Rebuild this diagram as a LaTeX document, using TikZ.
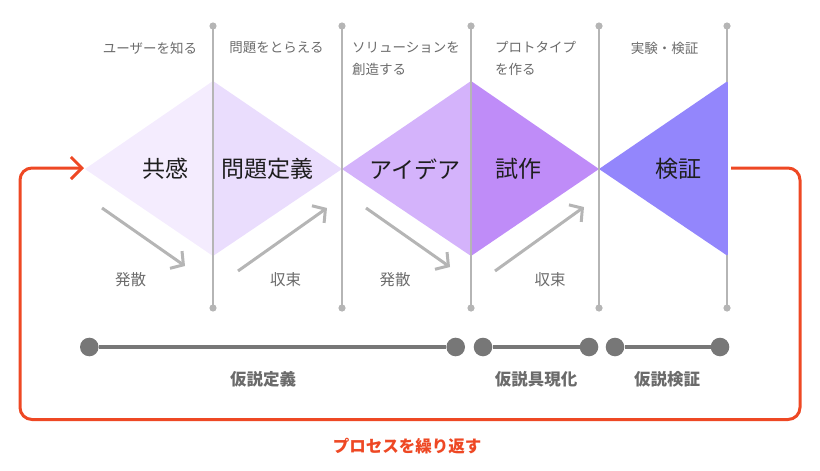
\documentclass[tikz,border=0pt]{standalone}
\usepackage{fontspec}
\setmainfont{Noto Sans CJK JP}
\usetikzlibrary{arrows.meta}

\definecolor{phaseempathy}{HTML}{F4ECFE}
\definecolor{phasedefine}{HTML}{EADDFD}
\definecolor{phaseideate}{HTML}{D4B3FB}
\definecolor{phaseproto}{HTML}{BF8CF8}
\definecolor{phasetest}{HTML}{9386FC}
\definecolor{guidegray}{HTML}{B5B5B5}
\definecolor{labelgray}{HTML}{6B6B6B}
\definecolor{bargray}{HTML}{777777}
\definecolor{loopred}{HTML}{EE4824}
\definecolor{inkblack}{HTML}{1E1E1E}

\tikzset{
  guideline/.style={line width=1.5pt, draw=guidegray},
  guidedot/.style={fill=guidegray},
  phasetext/.style={text=inkblack, font=\fontsize{23}{28}\selectfont, inner sep=0pt},
  steptext/.style={text=labelgray, font=\fontsize{13.5}{21.5}\selectfont, inner sep=0pt},
  flowtext/.style={text=labelgray, font=\fontsize{15.5}{19}\selectfont, inner sep=0pt},
  flowarrow/.style={line width=3pt, draw=guidegray, -{Straight Barb[length=9pt,width=21pt]}},
  bardot/.style={circle, fill=bargray, minimum size=18.6pt, inner sep=0pt},
  barline/.style={line width=4pt, draw=bargray},
  bartext/.style={text=labelgray, font=\bfseries\fontsize{16.5}{20}\selectfont, inner sep=0pt},
  looparrow/.style={line width=3pt, draw=loopred, rounded corners=12pt,
    -{Straight Barb[length=11pt,width=22pt]}},
}

\begin{document}
\begin{tikzpicture}[x=1pt,y=-1pt]
                \useasboundingbox (0,0) rectangle (820,471);
                {

                % Filling diamond of empathy and definition
                \fill [phaseempathy] (85,169) -- (213,81) -- (213,256) -- cycle;%
                \fill [phasedefine] (213,81) -- (342,169) -- (213,256) -- cycle;%

                % Filling diamond of ideation and prototype
                \fill [phaseideate] (342,169) -- (471,81) -- (471,256) -- cycle;%
                \fill [phaseproto] (471,81) -- (599,169) -- (471,256) -- cycle;%

                % Drawing guide lines with end dots
                \foreach \gx/\gn in {213/1,342/2,471/3,599/4,727/5} {
                    \coordinate (gtop\gn) at (\gx,26);
                    \coordinate (gbot\gn) at (\gx,308);
                    \draw [guideline] (gtop\gn) -- (gbot\gn);%
                    \fill [guidedot] (gtop\gn) circle (3.6);%
                    \fill [guidedot] (gbot\gn) circle (3.6);%
                }

                % Filling triangle of test (over its guide line)
                \fill [phasetest, rounded corners=1.5pt] (599,169) -- (727.8,81) -- (727.8,256) -- cycle;%

                % Marking phase names
                \draw (165,169) node (empathy) [phasetext] {共感};%
                \draw (267.5,169) node (define) [phasetext] {問題定義};%
                \draw (415,169) node (ideate) [phasetext] {アイデア};%
                \draw (518,169) node (proto) [phasetext] {試作};%
                \draw (678,169) node (test) [phasetext] {検証};%

                % Marking step captions
                \draw (150,48) node (knowuser) [steptext] {ユーザーを知る};%
                \draw (276.5,48) node (grasp) [steptext] {問題をとらえる};%
                \draw (352,58.5) node (create) [steptext, anchor=west, align=left] {ソリューションを\\創造する};%
                \draw (495,58.5) node (make) [steptext, anchor=west, align=left] {プロトタイプ\\を作る};%
                \draw (664.5,48) node (verify) [steptext] {実験・検証};%

                % Drawing diverge and converge arrows
                \coordinate (div1s) at (102,208);
                \coordinate (div1e) at (185,266);
                \coordinate (con1s) at (238,271);
                \coordinate (con1e) at (327,208);
                \coordinate (div2s) at (366,208);
                \coordinate (div2e) at (450,267);
                \coordinate (con2s) at (495,271);
                \coordinate (con2e) at (584,207);
                \draw [flowarrow] (div1s) -- (div1e);%
                \draw [flowarrow] (con1s) -- (con1e);%
                \draw [flowarrow] (div2s) -- (div2e);%
                \draw [flowarrow] (con2s) -- (con2e);%

                % Marking diverge and converge captions
                \draw (130.5,280) node (diverge1) [flowtext] {発散};%
                \draw (285.5,280) node (converge1) [flowtext] {収束};%
                \draw (395,280) node (diverge2) [flowtext] {発散};%
                \draw (550,280) node (converge2) [flowtext] {収束};%

                % Drawing hypothesis bars
                \node (hypdefA) at (89.3,347) [bardot] {};%
                \node (hypdefB) at (455.7,347) [bardot] {};%
                \node (hypmakeA) at (483,347) [bardot] {};%
                \node (hypmakeB) at (589,347) [bardot] {};%
                \node (hyptestA) at (615,347) [bardot] {};%
                \node (hyptestB) at (720,347) [bardot] {};%
                \draw [barline] (hypdefA) -- (hypdefB);%
                \draw [barline] (hypmakeA) -- (hypmakeB);%
                \draw [barline] (hyptestA) -- (hyptestB);%

                % Marking hypothesis captions
                \draw (263,379) node (hypdef) [bartext] {仮説定義};%
                \draw (536,379) node (hypmake) [bartext] {仮説具現化};%
                \draw (667,379) node (hyptest) [bartext] {仮説検証};%

                % Drawing repeat loop
                \coordinate (loopstart) at (731,168);
                \coordinate (loopend) at (84,168);
                \draw [looparrow] (loopstart) -- (800,168) -- (800,419.5) -- (20,419.5) -- (20,168) -- (loopend);%
                \draw (407,446) node (repeat) [text=loopred, font=\bfseries\fontsize{16.5}{20}\selectfont, inner sep=0pt] {プロセスを繰り返す};%
                }
            \end{tikzpicture}
\end{document}
